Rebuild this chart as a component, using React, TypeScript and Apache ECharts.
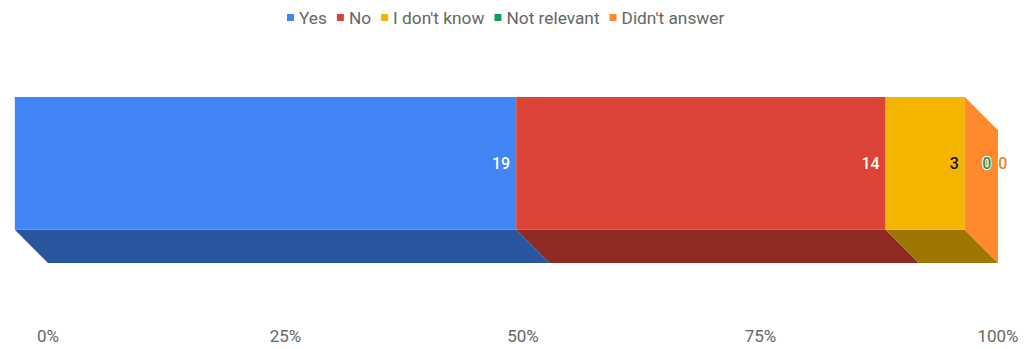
import React, { useEffect, useRef } from "react";
import * as echarts from "echarts";

const categories = ["Response"];
const seriesNames = ["Yes", "No", "I don't know", "Not relevant", "Didn't answer"];
const yesValues = [19];
const noValues = [14];
const idkValues = [3];
const notRelevantValues = [0];
const didntAnswerValues = [0];
const xTickLabels = ["0%", "25%", "50%", "75%", "100%"];

const frontColors = ["#4285F4", "#DB4437", "#F4B400", "#0F9D58", "#FF8A2E"];
const bottomColors = ["#2A56A0", "#8E2B23", "#9E7600", "#0A6639", "#A85A1E"];
const labelColors = ["#FFFFFF", "#FFFFFF", "#111111", "#0F9D58", "#E8822E"];

export default function App() {
  const ref = useRef<HTMLDivElement>(null);
  useEffect(() => {
    if (!ref.current) return;
    const chart = echarts.init(ref.current, undefined, { renderer: "svg" });
    const allValues = [yesValues, noValues, idkValues, notRelevantValues, didntAnswerValues];
    const total = allValues.reduce((s, arr) => s + arr[0], 0);
    let cum = 0;
    const series = allValues.map((arr, i) => {
      const start = (cum / total) * 100;
      cum += arr[0];
      const end = (cum / total) * 100;
      const isLast = i === allValues.length - 1;
      return {
        type: "custom",
        name: seriesNames[i],
        clip: false,
        itemStyle: { color: frontColors[i] },
        encode: { x: [0, 1], y: 3 },
        data: [[start, end, arr[0], 0]],
        renderItem: (params: any, api: any) => {
          const s = api.value(0);
          const e = api.value(1);
          const raw = api.value(2);
          const cat = api.value(3);
          const p0 = api.coord([s, cat]);
          const p1 = api.coord([e, cat]);
          const band = api.size([0, 1])[1];
          const depth = band * 0.2;
          const top = p0[1] - band / 2;
          const fb = top + band - depth;
          const x0 = p0[0] - depth;
          const x1 = p1[0] - depth;
          const children: any[] = [];
          if (x1 - x0 > 0.01) {
            children.push({
              type: "polygon",
              shape: { points: [[x0, fb], [x1, fb], [x1 + depth, fb + depth], [x0 + depth, fb + depth]] },
              style: { fill: bottomColors[i] },
            });
            children.push({
              type: "rect",
              shape: { x: x0, y: top, width: x1 - x0, height: fb - top },
              style: { fill: frontColors[i] },
            });
          }
          if (isLast) {
            children.push({
              type: "polygon",
              shape: { points: [[x1, top], [x1 + depth, top + depth], [x1 + depth, fb + depth], [x1, fb]] },
              style: { fill: frontColors[i] },
            });
          }
          const cy = (top + fb) / 2;
          if (raw > 0) {
            children.push({
              type: "text",
              x: x1 - 6,
              y: cy,
              z2: 100,
              style: {
                text: String(raw),
                fill: labelColors[i],
                align: "right",
                verticalAlign: "middle",
                fontSize: 16,
                fontWeight: 500,
                fontFamily: "Roboto",
              },
            });
          } else {
            children.push({
              type: "text",
              x: x1 + (isLast ? 38 : 22),
              y: cy,
              z2: 100,
              style: {
                text: String(raw),
                fill: labelColors[i],
                stroke: "#FFFFFF",
                lineWidth: 2,
                align: "center",
                verticalAlign: "middle",
                fontSize: 16,
                fontWeight: 500,
                fontFamily: "Roboto",
              },
            });
          }
          return { type: "group", children };
        },
      };
    });

    chart.setOption({
      animation: false,
      legend: {
        top: 4,
        left: 282,
        icon: "rect",
        itemWidth: 7,
        itemHeight: 7,
        itemGap: 10,
        textStyle: { fontSize: 17.3, color: "#666666", fontFamily: "Roboto", padding: [0, 0, 0, 0] },
        data: seriesNames,
      },
      grid: { left: 48, right: 27, top: 97, bottom: 86 },
      xAxis: {
        type: "value",
        min: 0,
        max: 100,
        interval: 25,
        axisLine: { show: false },
        axisTick: { show: false },
        splitLine: { show: false },
        axisLabel: {
          margin: 64,
          fontSize: 17,
          color: "#666666",
          fontFamily: "Roboto",
          formatter: (v: number) => xTickLabels[Math.round(v / 25)],
        },
      },
      yAxis: { type: "category", data: categories, show: false },
      series,
    });
    return () => chart.dispose();
  }, []);
  return (
    <div
      ref={ref}
      style={{ position: "absolute", left: 0, top: 0, width: 1025, height: 349 }}
    />
  );
}
